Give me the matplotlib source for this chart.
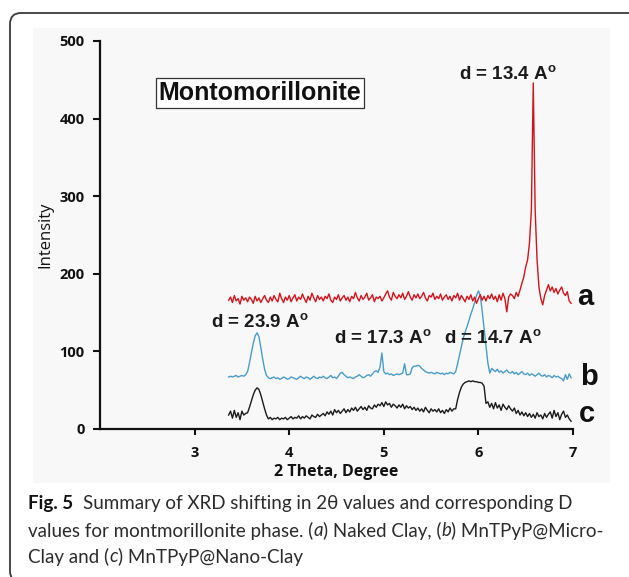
import numpy as np
import matplotlib
matplotlib.use("Agg")
import matplotlib.pyplot as plt
from matplotlib.patches import FancyBboxPatch, Rectangle

# ---------------- data ----------------
# 2-theta sampling grid of the diffractograms
theta_start = 3.36
theta_step = 0.02
n_points = 182

# (a) Naked Clay
intensity_a = [
    166, 170, 163, 172, 165, 168, 161, 171, 166, 169,
    164, 170, 167, 162, 171, 165, 169, 163, 168, 172,
    166, 163, 170, 165, 172, 167, 164, 175, 168, 163,
    170, 166, 172, 164, 169, 173, 165, 170, 167, 174,
    168, 163, 171, 166, 175, 169, 164, 172, 167, 170,
    165, 171, 168, 174, 166, 163, 170, 167, 173, 165,
    169, 172, 166, 170, 164, 171, 168, 176, 169, 165,
    172, 167, 170, 175, 166, 169, 173, 164, 170, 168,
    171, 165, 169, 174, 178, 170, 166, 176, 171, 168,
    173, 169, 175, 167, 171, 177, 170, 166, 173, 169,
    174, 168, 171, 176, 169, 165, 172, 170, 175, 167,
    171, 168, 174, 166, 170, 173, 167, 171, 165, 172,
    169, 175, 166, 172, 168, 164, 171, 167, 173, 165,
    170, 162, 168, 173, 166, 171, 165, 172, 168, 174,
    167, 171, 164, 173, 166, 175, 168, 151, 170, 174,
    172, 168, 176, 171, 179, 188, 196, 209, 218, 240,
    282, 446, 282, 218, 183, 168, 160, 172, 179, 186,
    178, 183, 176, 181, 174, 179, 183, 175, 172, 177,
    165, 162,
]

# (b) MnTPyP@Micro-Clay
intensity_b = [
    67, 68, 67, 68, 69, 67, 68, 69, 68, 70,
    74, 85, 98, 110, 120, 124, 119, 105, 90, 77,
    69, 66, 65, 66, 67, 65, 66, 64, 65, 67,
    66, 64, 65, 67, 66, 65, 64, 66, 68, 66,
    65, 67, 66, 64, 66, 68, 66, 65, 67, 66,
    68, 66, 65, 67, 69, 66, 67, 65, 68, 72,
    73, 70, 68, 66, 67, 66, 65, 67, 68, 70,
    68, 66, 67, 69, 70, 68, 71, 74, 75, 73,
    80, 98, 74, 71, 72, 70, 71, 69, 70, 71,
    70, 71, 72, 84, 70, 70, 71, 79, 81, 81,
    82, 81, 78, 76, 74, 73, 72, 73, 72, 71,
    73, 72, 71, 72, 70, 72, 71, 73, 72, 71,
    74, 84, 95, 106, 117, 125, 132, 140, 148, 155,
    163, 172, 178, 172, 152, 130, 108, 85, 72, 78,
    76, 74, 77, 73, 75, 72, 74, 76, 73, 72,
    74, 71, 73, 70, 72, 74, 71, 70, 72, 69,
    71, 70, 68, 70, 72, 69, 68, 70, 67, 69,
    68, 66, 69, 67, 68, 66, 65, 62, 70, 64,
    71, 66,
]

# (c) MnTPyP@Nano-Clay
intensity_c = [
    18, 23, 14, 24, 15, 21, 12, 23, 18, 20,
    21, 28, 36, 44, 50, 53, 51, 44, 35, 26,
    18, 13, 15, 12, 14, 13, 15, 12, 14, 13,
    15, 12, 14, 16, 13, 15, 14, 17, 13, 16,
    14, 17, 15, 13, 18, 16, 15, 19, 16, 18,
    20, 17, 22, 19, 23, 18, 25, 21, 24, 20,
    23, 26, 21, 25, 22, 27, 24, 28, 23, 26,
    29, 25, 28, 24, 30, 27, 26, 31, 28, 32,
    30, 34, 29, 35, 31, 33, 28, 32, 30, 27,
    31, 28, 32, 26, 30, 27, 29, 25, 28, 24,
    27, 23, 26, 22, 28, 24, 21, 26, 23, 25,
    22, 26, 21, 24, 20, 25, 22, 27, 23, 26,
    26, 38, 47, 54, 58, 60, 61, 62, 61, 62,
    61, 61, 60, 60, 59, 55, 33, 35, 28, 33,
    26, 34, 27, 31, 24, 32, 28, 25, 30, 26,
    23, 27, 20, 24, 18, 22, 17, 21, 16, 20,
    15, 19, 14, 21, 16, 18, 13, 20, 15, 19,
    22, 14, 24, 16, 21, 12, 19, 23, 15, 18,
    13, 10,
]

series_labels = ["a", "b", "c"]
series_label_pos = [(7.04, 160), (7.07, 57), (7.06, 9)]

peak_labels = ["d = 13.4 A", "d = 23.9 A", "d = 17.3 A", "d = 14.7 A"]
peak_label_pos = [(5.80, 456), (3.17, 137), (4.47, 116), (5.64, 116)]

x_ticks = [3, 4, 5, 6, 7]
y_ticks = [0, 100, 200, 300, 400, 500]

caption_lines = [
    "Summary of XRD shifting in 2θ values and corresponding D",
    "values for montmorillonite phase. (",
    "Clay and (",
]

# ---------------- figure ----------------
theta = np.round(theta_start + theta_step * np.arange(n_points), 3)

W, H = 629, 577
fig = plt.figure(figsize=(W / 100, H / 100), dpi=100)
fig.patch.set_facecolor("white")

# rounded outer frame (in inches)
frame = FancyBboxPatch((0.10, -0.05), 6.40, 5.69,
                       boxstyle="round,pad=0,rounding_size=0.11",
                       transform=fig.dpi_scale_trans, facecolor="none",
                       edgecolor="#3a3a3a", linewidth=1.3, zorder=0)
fig.patches.append(frame)

# light grey chart background
bg = Rectangle((0.33, 0.94), 5.77, 4.55, transform=fig.dpi_scale_trans,
               facecolor="#f8f8f8", edgecolor="none", zorder=0)
fig.patches.append(bg)

ax = fig.add_axes([100 / W, 1 - 429 / H, (573 - 100) / W, (429 - 41) / H])
ax.set_zorder(3)
ax.set_facecolor("none")
ax.set_xlim(2, 7)
ax.set_ylim(0, 500)

ax.plot(theta, intensity_a, color="#d0131c", lw=1.0, zorder=3)
ax.plot(theta, intensity_b, color="#4a9cc6", lw=1.0, zorder=2)
ax.plot(theta, intensity_c, color="#1a1a1a", lw=1.0, zorder=2)

for s in ["top", "right"]:
    ax.spines[s].set_visible(False)
for s in ["left", "bottom"]:
    ax.spines[s].set_linewidth(1.6)
    ax.spines[s].set_color("#111111")

ax.set_xticks(x_ticks)
ax.set_yticks(y_ticks)
ax.tick_params(axis="x", direction="out", length=4, width=1.5, pad=8,
               labelsize=10.5, colors="#111111")
ax.tick_params(axis="y", direction="out", length=5, width=1.5, pad=6,
               labelsize=10.5, colors="#111111")
for lab in ax.get_xticklabels() + ax.get_yticklabels():
    lab.set_fontfamily("Open Sans")
    lab.set_fontweight("bold")

ax.set_xlabel("2 Theta, Degree", fontfamily="Open Sans", fontweight="bold",
              fontsize=11.5, color="#111111", labelpad=3)
ax.set_ylabel("Intensity", fontfamily="Open Sans", fontsize=12, color="#111111")
ax.yaxis.set_label_coords((53 - 100) / (573 - 100), (429 - 235) / (429 - 41))

# title box
ax.text(2.62, 433, "Montomorillonite", fontfamily="Liberation Sans",
        fontweight="bold", fontsize=18, color="#111111", va="center",
        ha="left",
        bbox=dict(boxstyle="square,pad=0.12", facecolor="white",
                  edgecolor="#333333", linewidth=0.9))

# peak labels
for lab, (px, py) in zip(peak_labels, peak_label_pos):
    ax.text(px, py, lab + r"$^{\mathregular{o}}$", fontfamily="Liberation Sans",
            fontweight="bold", fontsize=13.5, color="#1a1a1a",
            ha="left", va="center", zorder=5)

# curve letters
for lab, (px, py) in zip(series_labels, series_label_pos):
    ax.text(px, py, lab, fontfamily="Liberation Sans", fontweight="bold",
            fontsize=21, color="#111111", ha="left", va="baseline",
            clip_on=False)

# caption
cap_font = "Lato"
cap_color = "#2b2b2b"
x0 = 28 / W
ys = [1 - 504 / H, 1 - 531 / H, 1 - 557 / H]
r = fig.canvas.get_renderer()


def place(parts, y, size, first_bold=False):
    x = x0
    arts = []
    for i, (txt, style) in enumerate(parts):
        bold = first_bold and i == 0
        tt = fig.text(x, y, txt, fontfamily=cap_font, fontsize=size,
                      color="#111111" if bold else cap_color, va="center",
                      style=style, fontweight="bold" if bold else "normal")
        arts.append(tt)
        b = tt.get_window_extent(r)
        x = b.x1 / W + (10 / W if bold else 0)
    return arts, x * W


line1 = [("Fig. 5", "normal"), (caption_lines[0], "normal")]
line2 = [(caption_lines[1], "normal"), ("a", "italic"), (") Naked Clay, (", "normal"),
         ("b", "italic"), (") MnTPyP@Micro-", "normal")]
line3 = [(caption_lines[2], "normal"), ("c", "italic"),
         (") MnTPyP@Nano-Clay", "normal")]

# one size, a compromise between where lines 1 and 2 end in the picture
arts1, end1 = place(line1, ys[0], 12, first_bold=True)
arts2, end2 = place(line2, ys[1], 12)
for a in arts1 + arts2:
    a.remove()
s1 = 12 * (598 - 28) / (end1 - 28)
s2 = 12 * (584 - 28) / (end2 - 28)
cap_size = min(0.5 * (s1 + s2), s2 * 1.03)
place(line1, ys[0], cap_size, first_bold=True)
place(line2, ys[1], cap_size)
place(line3, ys[2], cap_size)

fig.savefig("out.png", dpi=100)
